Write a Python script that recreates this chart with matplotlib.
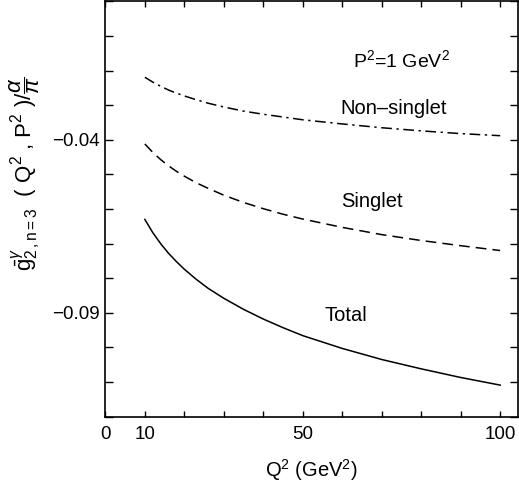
import numpy as np
import matplotlib
matplotlib.use("Agg")
import matplotlib.pyplot as plt

plt.rcParams['font.family'] = ['Liberation Sans', 'DejaVu Sans']
plt.rcParams['mathtext.fontset'] = 'custom'
plt.rcParams['mathtext.rm'] = 'Liberation Sans'
plt.rcParams['mathtext.it'] = 'Liberation Sans:italic'
plt.rcParams['mathtext.sf'] = 'Liberation Sans'

# values
q2 = [10, 12, 14, 16, 18, 20, 23, 26, 30, 35, 40, 45, 50, 60, 70, 80, 90, 100]
nonsinglet = [-0.0219, -0.0233, -0.0245, -0.0256, -0.0265, -0.0273, -0.0284, -0.0294, -0.0305,
              -0.0317, -0.0326, -0.0334, -0.0342, -0.0354, -0.0365, -0.0374, -0.0382, -0.0388]
singlet = [-0.0412, -0.0436, -0.0457, -0.0475, -0.0491, -0.0505, -0.0524, -0.0540, -0.0560,
           -0.0581, -0.0599, -0.0615, -0.0629, -0.0653, -0.0674, -0.0691, -0.0706, -0.0720]
total = [-0.0630, -0.0668, -0.0700, -0.0728, -0.0752, -0.0774, -0.0803, -0.0829, -0.0858,
         -0.0890, -0.0918, -0.0943, -0.0966, -0.1003, -0.1035, -0.1062, -0.1087, -0.1109]

xticks = [0, 10, 20, 30, 40, 50, 60, 70, 80, 90, 100]
xticklabels = ['0', '10', '', '', '', '50', '', '', '', '', '100']
yticks = [-0.12, -0.11, -0.10, -0.09, -0.08, -0.07, -0.06, -0.05, -0.04, -0.03, -0.02, -0.01, 0.0]
yticklabels = ['', '', '', '\u22120.09', '', '', '', '', '\u22120.04', '', '', '', '']

fig = plt.figure(figsize=(5.19, 4.93), dpi=100)
ax = fig.add_axes([0.203, 0.155, 0.795, 0.842])

ax.plot(q2, nonsinglet, color='black', lw=1.1, dashes=(7, 3, 1.5, 3))
ax.plot(q2, singlet, color='black', lw=1.1, dashes=(7, 4))
ax.plot(q2, total, color='black', lw=1.1)

ax.set_xlim(0, 104.5)
ax.set_ylim(-0.12, 0.0)
ax.set_xticks(xticks)
ax.set_xticklabels(xticklabels)
ax.set_yticks(yticks)
ax.set_yticklabels(yticklabels)
ax.tick_params(axis='both', direction='in', top=True, right=True,
               labelsize=13.5, width=1.0, color='black')
ax.tick_params(axis='x', length=4, pad=7)
ax.tick_params(axis='y', length=6, pad=4)
for s in ax.spines.values():
    s.set_linewidth(1.2)

ax.text(75, -0.0169, 'P$^2$=1 GeV$^2$', ha='center', va='center', fontsize=14)
ax.text(73, -0.0308, 'Non\u2013singlet', ha='center', va='center', fontsize=14.5)
ax.text(67.4, -0.0579, 'Singlet', ha='center', va='center', fontsize=14.5)
ax.text(60.8, -0.0908, 'Total', ha='center', va='center', fontsize=14.5)

ax.set_xlabel('Q$^2$ (GeV$^2$)', fontsize=14.5, labelpad=10)
fig.text(25 / 519, 1 - 173 / 493,
         r'$\bar{\mathrm{g}}^{\gamma}_{2\,,\mathrm{n=3}}$  ( Q$^2$ , P$^2$ )/$\dfrac{\alpha}{\pi}$',
         fontsize=16, rotation=90, ha='center', va='center')

fig.savefig('out.png', dpi=100)
